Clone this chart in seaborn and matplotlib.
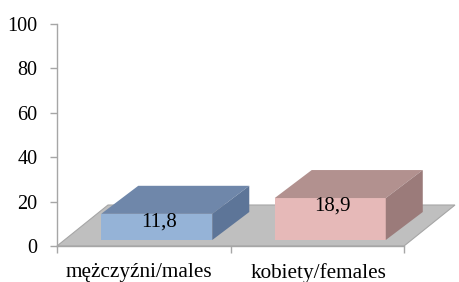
import matplotlib
matplotlib.use("Agg")
import matplotlib.pyplot as plt
import seaborn as sns
import pandas as pd
from matplotlib.patches import Polygon
from matplotlib.transforms import ScaledTranslation

# ---- data ----
categories = ["mężczyźni/males", "kobiety/females"]
values = [11.8, 18.9]
value_labels = ["11,8", "18,9"]
y_ticks = [0, 20, 40, 60, 80, 100]

# ---- styles ----
front_colors = ["#95B3D7", "#E6B9B8"]
top_colors = ["#6F87AA", "#B2918F"]
side_colors = ["#5D7598", "#9B7B7A"]
floor_color = "#BFBFBF"
axis_color = "#A6A6A6"

sns.set_theme(style="white")
plt.rcParams["font.family"] = ["Liberation Serif", "DejaVu Serif"]

W, H, DPI = 459, 282, 100
fig = plt.figure(figsize=(W / DPI, H / DPI), dpi=DPI)
ax_left, ax_right, ax_top, ax_bottom = 57, 404, 24, 246
ax = fig.add_axes([ax_left / W, 1 - ax_bottom / H, (ax_right - ax_left) / W, (ax_bottom - ax_top) / H])

df = pd.DataFrame({"cat": categories, "val": values})
sns.barplot(data=df, x="cat", y="val", hue="cat", palette=front_colors,
            width=0.64, legend=False, ax=ax, linewidth=0, saturation=1)

xmin, xmax = -0.5, len(categories) - 0.5
ax.set_xlim(xmin, xmax)
ax.set_ylim(0, 100)

# pixel -> data conversions
px_x = (ax_right - ax_left) / (xmax - xmin)
px_y = (ax_bottom - ax_top) / 100.0

def dx(p):
    return p / px_x

def dy(p):
    return p / px_y

# floor
fdx, fdy = dx(51), dy(41)
floor = Polygon([(xmin, 0), (xmax, 0), (xmax + fdx, fdy), (xmin + fdx, fdy)],
                closed=True, facecolor=floor_color, edgecolor=axis_color,
                linewidth=0.8, zorder=1, clip_on=False)
ax.add_patch(floor)

# bars: front face offset and depth
off_x, off_y = dx(13), dy(6)
bdx, bdy = dx(37), dy(28)
bars = [p for p in ax.patches if p is not floor]
for i, p in enumerate(bars):
    x0 = p.get_x() + off_x
    w = p.get_width()
    h = p.get_height()
    p.set_x(x0)
    p.set_y(off_y)
    p.set_zorder(3)
    p.set_clip_on(False)
    y0 = off_y
    y1 = off_y + h
    top = Polygon([(x0, y1), (x0 + w, y1), (x0 + w + bdx, y1 + bdy), (x0 + bdx, y1 + bdy)],
                  closed=True, facecolor=top_colors[i], edgecolor="none", zorder=3, clip_on=False)
    side = Polygon([(x0 + w, y0), (x0 + w + bdx, y0 + bdy), (x0 + w + bdx, y1 + bdy), (x0 + w, y1)],
                   closed=True, facecolor=side_colors[i], edgecolor="none", zorder=3, clip_on=False)
    ax.add_patch(top)
    ax.add_patch(side)
    ax.text(x0 + w / 2 + dx(2), y1 + dy(1.5), value_labels[i], ha="center", va="top",
            fontsize=15, color="black", zorder=5)

# axes styling
sns.despine(ax=ax, top=True, right=True)
ax.spines["left"].set_color(axis_color)
ax.spines["bottom"].set_color(axis_color)
ax.spines["left"].set_linewidth(1.0)
ax.spines["bottom"].set_linewidth(1.0)
ax.spines["left"].set_zorder(4)

ax.set_yticks(y_ticks)
ax.set_yticklabels([str(t) for t in y_ticks])
ax.set_xticks(range(len(categories)))
ax.set_xticklabels(categories)
ax.set_xticks([xmin + k for k in range(len(categories) + 1)], minor=True)
ax.tick_params(axis="y", which="major", direction="out", length=5, width=1,
               color=axis_color, labelsize=14.5, labelcolor="black", pad=9, left=True)
ax.tick_params(axis="x", which="major", length=0, labelsize=15.3, labelcolor="black", pad=12)
ax.tick_params(axis="x", which="minor", direction="out", length=5, width=1,
               color=axis_color, bottom=True)
# slight horizontal nudges of category labels as in the reference
label_shift_px = [-5, 1]
for lab, s in zip(ax.get_xticklabels(), label_shift_px):
    lab.set_transform(lab.get_transform() + ScaledTranslation(s / DPI, 0, fig.dpi_scale_trans))
ax.set_xlabel("")
ax.set_ylabel("")

fig.savefig("out.png", dpi=DPI)
